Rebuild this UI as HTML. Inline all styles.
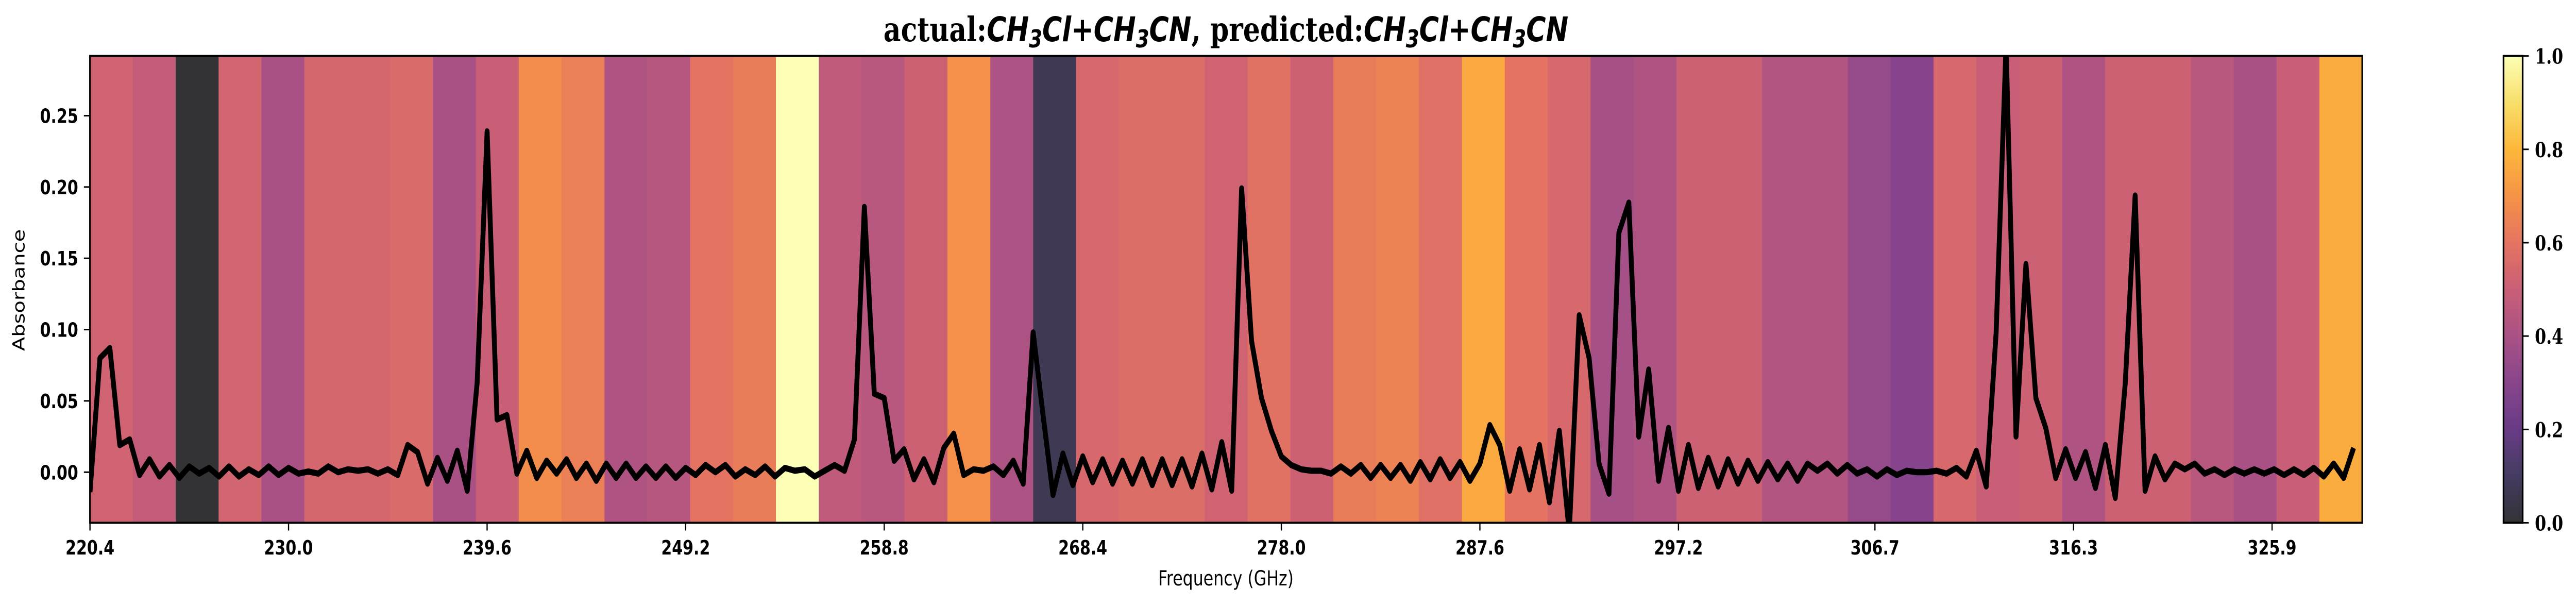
<!DOCTYPE html>
<html><head><meta charset="utf-8">
<style>
html,body{margin:0;padding:0;background:#fff;overflow:hidden;width:100%;height:100%;}
svg{display:block;width:100vw;height:100vh;}
</style></head>
<body>
<svg id="chart" xmlns="http://www.w3.org/2000/svg" viewBox="0 0 6327 1174" preserveAspectRatio="none">
<g id="bands"></g>
<g id="series"></g>
<rect x="221" y="108.6" width="5581" height="905.9" fill="none" stroke="#000" stroke-width="4"/>
<g id="xaxis"></g>
<g id="yaxis"></g>
<text x="3011" y="1136" text-anchor="middle" font-family="DejaVu Sans, Liberation Sans, sans-serif" font-size="40">Frequency (GHz)</text>
<text transform="translate(60,563) rotate(-90)" text-anchor="middle" font-family="DejaVu Sans, Liberation Sans, sans-serif" font-size="40">Absorbance</text>
<text x="3011" y="80" text-anchor="middle" font-family="DejaVu Serif, Liberation Serif, serif" font-weight="bold" font-size="66">actual:<tspan font-family="DejaVu Sans, Liberation Sans, sans-serif" font-style="italic">CH<tspan font-size="47" dy="12">3</tspan><tspan dy="-12">Cl+CH</tspan><tspan font-size="47" dy="12">3</tspan><tspan dy="-12">CN</tspan></tspan>, predicted:<tspan font-family="DejaVu Sans, Liberation Sans, sans-serif" font-style="italic">CH<tspan font-size="47" dy="12">3</tspan><tspan dy="-12">Cl+CH</tspan><tspan font-size="47" dy="12">3</tspan><tspan dy="-12">CN</tspan></tspan></text>
<defs><linearGradient id="cbgrad" x1="0" y1="1" x2="0" y2="0"></linearGradient></defs>
<rect x="6149" y="108.6" width="47" height="905.9" fill="url(#cbgrad)" stroke="#000" stroke-width="4"/>
<g id="cbaxis"></g>
</svg>
<script>
// ---- data ----
const absorbance = [
-0.014,0.080,0.087,0.019,0.023,-0.002,0.009,-0.003,0.005,-0.004,0.004,-0.001,0.003,-0.003,0.004,-0.003,0.002,-0.002,0.004,-0.002,
0.003,-0.001,0.0005,-0.001,0.004,0.0,0.002,0.001,0.002,-0.001,0.002,-0.002,0.019,0.014,-0.008,0.010,-0.006,0.015,-0.013,0.063,
0.239,0.037,0.040,-0.001,0.015,-0.004,0.008,-0.001,0.009,-0.004,0.006,-0.006,0.006,-0.004,0.006,-0.004,0.004,-0.004,0.004,-0.004,
0.003,-0.002,0.005,0.000,0.005,-0.003,0.002,-0.002,0.004,-0.003,0.003,0.001,0.002,
-0.003,0.001,0.005,0.001,0.023,0.186,0.055,0.052,0.008,0.016,-0.005,0.009,-0.007,0.017,0.027,-0.002,0.002,0.001,0.004,-0.002,
0.008,-0.008,0.098,0.040,-0.016,0.013,-0.009,0.011,-0.007,0.009,-0.008,0.008,-0.008,0.009,-0.009,0.009,-0.009,0.009,-0.010,
0.013,-0.012,0.021,-0.013,0.199,0.092,0.052,0.029,0.011,0.005,0.002,0.001,0.001,-0.001,0.004,-0.001,0.005,-0.004,0.005,-0.004,
0.005,-0.006,0.007,-0.005,0.009,-0.004,0.007,-0.006,0.006,0.033,0.019,-0.013,0.016,-0.012,0.019,-0.021,0.029,-0.042,0.110,0.080,
0.006,-0.015,
0.168,0.189,0.025,0.072,-0.006,0.031,-0.013,0.019,-0.011,0.010,-0.010,0.009,-0.008,0.008,-0.006,0.007,-0.005,0.006,-0.006,0.006,
0.001,0.006,-0.001,0.005,-0.001,0.002,-0.003,0.002,-0.002,0.001,0.000,0.000,0.001,-0.001,0.003,-0.003,0.015,-0.010,0.098,0.300,
0.025,
0.146,0.052,0.031,-0.004,0.016,-0.004,0.014,-0.011,0.019,-0.018,0.062,0.194,-0.013,0.011,-0.005,0.006,0.002,0.006,-0.001,0.002,
-0.002,0.002,-0.001,0.002,-0.001,0.002,-0.002,0.002,-0.002,0.003,-0.003,0.006,-0.004,0.017
];
const freqStart = 220.4;
const freqStep = 0.48;
const bandValues = [
0.52,0.48,0.0,0.53,0.40,0.54,0.54,0.56,0.40,0.50,0.68,0.64,0.42,0.44,0.60,0.63,1.0,
0.47,0.45,0.51,0.69,0.41,0.07,0.55,0.57,0.57,
0.52,0.59,0.51,0.63,0.65,0.58,0.76,0.60,0.55,0.39,
0.42,0.51,0.51,0.43,0.43,0.34,0.29,0.55,0.50,
0.51,0.42,0.51,0.51,0.45,0.40,0.50,0.77
];
const xTickLabels = ["220.4","230.0","239.6","249.2","258.8","268.4","278.0","287.6","297.2","306.7","316.3","325.9"];
const yTickLabels = ["0.00","0.05","0.10","0.15","0.20","0.25"];
const cbTickLabels = ["0.0","0.2","0.4","0.6","0.8","1.0"];

// ---- layout ----
const L=221,R=5802,T=108.6,B=1014.5;
const xMin=220.4,xMax=330.26,yMin=-0.0355,yMax=0.2919;
const xs=v=>L+(v-xMin)/(xMax-xMin)*(R-L);
const ys=v=>B-(v-yMin)/(yMax-yMin)*(B-T);
const NS="http://www.w3.org/2000/svg";
function mk(tag,attrs,parent){const e=document.createElementNS(NS,tag);for(const k in attrs)e.setAttribute(k,attrs[k]);parent.appendChild(e);return e;}

const inferno=[[0,0,4],[22,11,57],[66,10,104],[106,23,110],[147,38,103],[188,55,84],[221,81,58],[243,120,25],[252,165,10],[246,215,70],[252,255,164]];
function cmap(v){v=Math.max(0,Math.min(1,v));const p=v*10,i=Math.min(9,Math.floor(p)),f=p-i;
const c=inferno[i].map((a,k)=>a+(inferno[i+1][k]-a)*f).map(a=>Math.round(0.8*a+0.2*255));
return `rgb(${c[0]},${c[1]},${c[2]})`;}

// bands
const bandsG=document.getElementById('bands');
const bw=(R-L)/bandValues.length;
bandValues.forEach((v,i)=>{
  const r=mk('rect',{x:L+i*bw,y:T,width:bw+0.6,height:B-T,fill:cmap(v)},bandsG);
  
  
});

// line
const seriesG=document.getElementById('series');
let d='';
absorbance.forEach((v,i)=>{const x=xs(freqStart+i*freqStep),y=ys(v);d+=(i?'L':'M')+x.toFixed(1)+','+y.toFixed(1);});
const clip=mk('clipPath',{id:'plotclip'},seriesG);mk('rect',{x:L,y:T,width:R-L,height:B-T},clip);
const path=mk('path',{d:d,fill:'none',stroke:'#000','stroke-width':12,'stroke-linejoin':'round','clip-path':'url(#plotclip)'},seriesG);



// x axis
const xa=document.getElementById('xaxis');
xTickLabels.forEach(l=>{
  const x=xs(parseFloat(l));
  const t=mk('line',{x1:x,x2:x,y1:B,y2:B+15,stroke:'#000','stroke-width':3},xa);
  
  
  const tx=mk('text',{x:x,y:1076,'text-anchor':'middle','font-family':'DejaVu Sans, Liberation Sans, sans-serif','font-weight':'bold','font-size':38},xa);
  tx.textContent=l;
  
  
});
// y axis
const ya=document.getElementById('yaxis');
yTickLabels.forEach(l=>{
  const y=ys(parseFloat(l));
  const t=mk('line',{x1:L-15,x2:L,y1:y,y2:y,stroke:'#000','stroke-width':3},ya);
  
  
  const tx=mk('text',{x:192,y:y+14,'text-anchor':'end','font-family':'DejaVu Sans, Liberation Sans, sans-serif','font-weight':'bold','font-size':38},ya);
  tx.textContent=l;
  
  
});
// colorbar
const grad=document.getElementById('cbgrad');
for(let i=0;i<=20;i++){mk('stop',{offset:(i/20),'stop-color':cmap(i/20)},grad);}
const cb=document.getElementById('cbaxis');
cbTickLabels.forEach(l=>{
  const y=B-parseFloat(l)*(B-T);
  const t=mk('line',{x1:6196,x2:6211,y1:y,y2:y,stroke:'#000','stroke-width':3},cb);
  
  
  const tx=mk('text',{x:6226,y:y+15,'font-family':'DejaVu Serif, Liberation Serif, serif','font-weight':'bold','font-size':40},cb);
  tx.textContent=l;
  
  
});
</script>
</body></html>
